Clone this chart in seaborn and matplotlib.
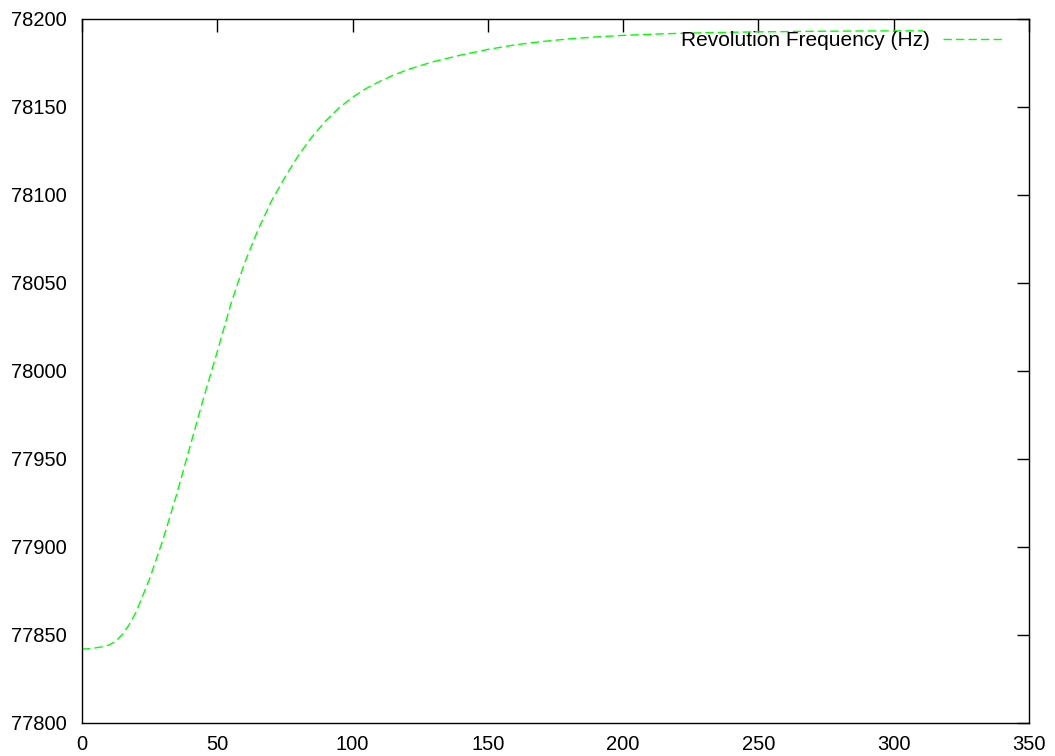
import matplotlib
matplotlib.use('Agg')
import matplotlib.pyplot as plt
import seaborn as sns
import pandas as pd

# values
time = [0, 2.5, 5, 7.5, 10, 12.5, 15, 17.5, 20, 25, 30, 35, 40, 45, 50, 55,
        60, 65, 70, 75, 80, 85, 90, 95, 100, 105, 110, 115, 120, 125, 130,
        140, 150, 160, 170, 180, 190, 200, 215, 230, 250, 270, 290, 311]
freq = [77842, 77842.2, 77842.7, 77843.3, 77844.3, 77846.5, 77850.5,
        77856, 77863, 77882, 77904.5, 77930, 77957.5, 77985, 78011, 78038,
        78061, 78080, 78096.5, 78110, 78122.5, 78133, 78142, 78149.5,
        78155.5, 78160.5, 78164.5, 78168, 78171, 78173.5, 78175.8, 78179.5,
        78182.7, 78185.3, 78187.2, 78188.7, 78189.8, 78190.7, 78191.6,
        78192.2, 78192.7, 78193, 78193.2, 78193.3]
xticks = list(range(0, 351, 50))
yticks = list(range(77800, 78201, 50))

df = pd.DataFrame({'t': time, 'f': freq})

sns.set_style('white')
plt.rcParams['font.family'] = ['Liberation Sans', 'DejaVu Sans']

fig = plt.figure(figsize=(10.55, 7.56), dpi=100)
ax = fig.add_axes([82 / 1055, 33 / 756, 947 / 1055, 704 / 756])

sns.lineplot(data=df, x='t', y='f', ax=ax, color='#00ff00', linewidth=1,
             linestyle=(0, (6, 3)), label='Revolution Frequency (Hz)')

ax.set_xlim(0, 350)
ax.set_ylim(77800, 78200)
ax.set_xticks(xticks)
ax.set_yticks(yticks)
ax.set_xlabel('')
ax.set_ylabel('')
ax.tick_params(direction='in', length=9, width=1, top=True, right=True,
               labelsize=14.5, colors='black')
ax.tick_params(axis='y', pad=11)
ax.tick_params(axis='x', pad=9)
for s in ax.spines.values():
    s.set_color('black')
    s.set_linewidth(1)

ax.legend(loc='upper right', bbox_to_anchor=(0.9725, 0.983), frameon=False,
          markerfirst=False, fontsize=15, handlelength=2.9, handletextpad=0.6,
          borderpad=0, borderaxespad=0, labelcolor='black')

fig.savefig('out.png', dpi=100)
